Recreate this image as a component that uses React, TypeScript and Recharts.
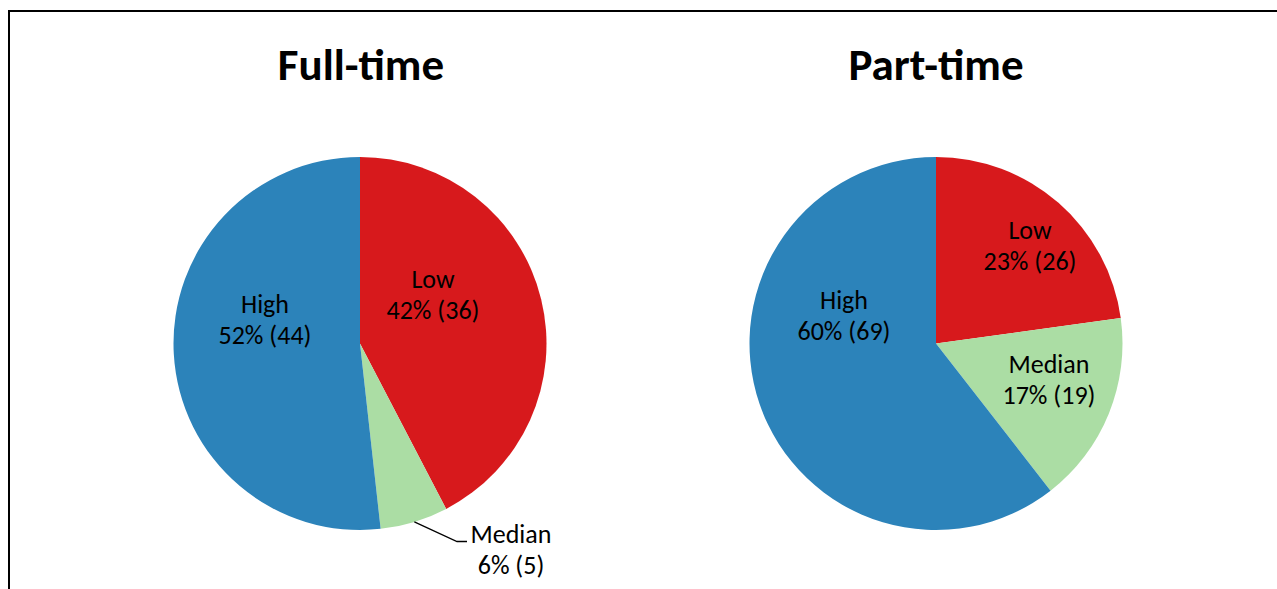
import React from 'react';
import { PieChart, Pie, Cell } from 'recharts';

const categories = ['Low', 'Median', 'High'];
const fullTimeCounts = [36, 5, 44];
const fullTimePercents = [42, 6, 52];
const partTimeCounts = [26, 19, 69];
const partTimePercents = [23, 17, 60];

const COLORS = ['#d7191c', '#abdda4', '#2c83ba'];
const FONT = 'Carlito, Calibri, "Open Sans", sans-serif';

const WIDTH = 1277;
const HEIGHT = 589;
const RADIUS = 186.5;
const CY = 343.5;

// label block offsets (from the pie centre): dx, baseline of first line
const fullTimeLabelPos = [
  { dx: 73, dy: -56 },
  { dx: 151, dy: 199 },
  { dx: -95, dy: -31 },
];
const partTimeLabelPos = [
  { dx: 94, dy: -105 },
  { dx: 113, dy: 29 },
  { dx: -92, dy: -35 },
];

const buildData = (counts: number[], percents: number[]) =>
  categories.map((name, i) => ({ name, value: counts[i], pct: percents[i] }));

const fullTimeData = buildData(fullTimeCounts, fullTimePercents);
const partTimeData = buildData(partTimeCounts, partTimePercents);

const RAD = Math.PI / 180;

const makeLabel =
  (positions: { dx: number; dy: number }[], leaderFor: number | null) =>
  (props: any) => {
    const { cx, cy, midAngle, outerRadius, index, payload } = props;
    const pos = positions[index];
    const x = cx + pos.dx;
    const y = cy + pos.dy;
    let leader = null;
    if (index === leaderFor) {
      const sx = cx + outerRadius * Math.cos(-midAngle * RAD);
      const sy = cy + outerRadius * Math.sin(-midAngle * RAD);
      const ey = y - 1;
      const ex = x - 44;
      leader = (
        <polyline
          points={`${sx},${sy} ${ex - 10},${ey} ${ex},${ey}`}
          fill="none"
          stroke="#000"
          strokeWidth={1.3}
        />
      );
    }
    return (
      <g key={`label-${index}`}>
        {leader}
        <text x={x} y={y} textAnchor="middle" fontFamily={FONT} fontSize={26} fill="#000">
          {payload.name}
        </text>
        <text x={x} y={y + 31.5} textAnchor="middle" fontFamily={FONT} fontSize={26} fill="#000">
          {`${payload.pct}% (${payload.value})`}
        </text>
      </g>
    );
  };

export default function App() {
  return (
    <div style={{ position: 'absolute', left: 0, top: 0, width: WIDTH, height: HEIGHT, background: '#fff' }}>
      <PieChart width={WIDTH} height={HEIGHT} margin={{ top: 0, right: 0, bottom: 0, left: 0 }}>
        <rect x={9} y={11} width={1320} height={640} fill="none" stroke="#000" strokeWidth={2} />
        <text x={361} y={80} textAnchor="middle" fontFamily={FONT} fontSize={45} fontWeight="bold" fill="#000">
          Full-time
        </text>
        <text x={936} y={80} textAnchor="middle" fontFamily={FONT} fontSize={45} fontWeight="bold" fill="#000">
          Part-time
        </text>
        <Pie
          data={fullTimeData}
          dataKey="value"
          nameKey="name"
          cx={360}
          cy={CY}
          outerRadius={RADIUS}
          startAngle={90}
          endAngle={-270}
          stroke="none"
          labelLine={false}
          label={makeLabel(fullTimeLabelPos, 1)}
          isAnimationActive={false}
        >
          {fullTimeData.map((entry, i) => (
            <Cell key={`ft-${entry.name}`} fill={COLORS[i]} />
          ))}
        </Pie>
        <Pie
          data={partTimeData}
          dataKey="value"
          nameKey="name"
          cx={936}
          cy={CY}
          outerRadius={RADIUS}
          startAngle={90}
          endAngle={-270}
          stroke="none"
          labelLine={false}
          label={makeLabel(partTimeLabelPos, null)}
          isAnimationActive={false}
        >
          {partTimeData.map((entry, i) => (
            <Cell key={`pt-${entry.name}`} fill={COLORS[i]} />
          ))}
        </Pie>
      </PieChart>
    </div>
  );
}
